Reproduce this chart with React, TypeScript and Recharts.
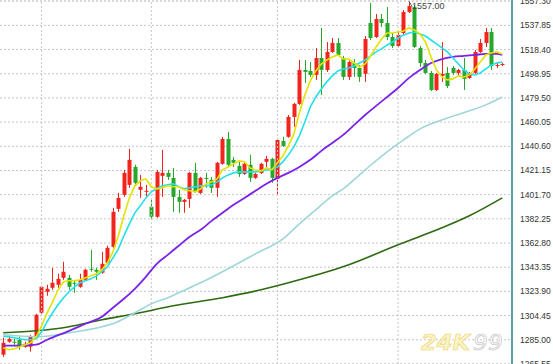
import React from 'react';
import { ComposedChart, Bar, Line, XAxis, YAxis, CartesianGrid, ReferenceLine, ReferenceDot } from 'recharts';

const opens = [
  1273.0, 1283.4, 1283.4, 1285.0, 1279.4, 1279.4, 1286.6, 1306.7, 1323.6, 1326.8,
  1329.2, 1334.8, 1334.8, 1330.8, 1327.6, 1333.2, 1342.1, 1341.3, 1338.9, 1346.9,
  1359.7, 1390.3, 1401.5, 1409.6, 1424.0, 1405.6, 1404.0, 1391.9, 1383.9, 1416.8,
  1419.2, 1415.2, 1399.9, 1395.9, 1398.3, 1419.2, 1403.1, 1415.2, 1413.6, 1407.2,
  1426.5, 1446.5, 1429.7, 1424.9, 1418.4, 1425.7, 1415.2, 1419.2, 1428.1, 1430.5,
  1414.4, 1444.9, 1448.2, 1464.2, 1474.7, 1502.0, 1501.2, 1498.0, 1511.6, 1502.0,
  1516.5, 1523.7, 1511.6, 1496.4, 1507.6, 1503.6, 1498.8, 1539.8, 1528.5, 1543.0,
  1539.8, 1528.5, 1521.3, 1531.7, 1548.6, 1552.6, 1519.7, 1507.6, 1499.6, 1485.9,
  1497.2, 1499.6, 1503.6, 1499.6, 1502.0, 1495.6, 1499.6, 1516.5, 1523.7, 1532.5,
  1505.2, 1506.0,
];
const closes = [
  1282.6, 1285.8, 1282.6, 1279.4, 1281.8, 1287.4, 1305.1, 1327.6, 1326.0, 1330.8,
  1334.0, 1339.7, 1327.6, 1330.0, 1333.2, 1341.3, 1341.3, 1339.7, 1346.1, 1358.9,
  1387.9, 1399.1, 1419.2, 1429.7, 1411.2, 1408.0, 1404.8, 1383.9, 1420.0, 1419.2,
  1416.0, 1399.9, 1395.9, 1397.5, 1419.2, 1404.0, 1415.2, 1414.4, 1407.2, 1427.3,
  1446.5, 1425.7, 1427.3, 1418.4, 1426.5, 1415.2, 1418.4, 1426.5, 1430.5, 1415.2,
  1445.7, 1440.9, 1464.2, 1474.7, 1502.0, 1500.4, 1498.0, 1511.6, 1502.0, 1516.5,
  1523.7, 1514.1, 1496.4, 1508.4, 1503.6, 1496.4, 1526.9, 1527.7, 1543.0, 1539.8,
  1528.5, 1521.3, 1530.1, 1548.6, 1553.4, 1520.5, 1507.6, 1499.6, 1485.9, 1498.8,
  1498.8, 1489.1, 1499.6, 1502.0, 1494.8, 1499.6, 1516.5, 1523.7, 1532.5, 1505.2,
  1506.0, 1506.8,
];
const highs = [
  1286.6, 1287.4, 1285.8, 1287.4, 1283.4, 1289.0, 1305.9, 1328.4, 1329.2, 1342.9,
  1338.1, 1347.7, 1337.2, 1333.2, 1338.1, 1342.1, 1357.3, 1342.9, 1355.7, 1360.6,
  1391.1, 1403.1, 1421.6, 1438.5, 1425.7, 1417.6, 1409.6, 1397.5, 1421.6, 1437.7,
  1421.6, 1423.2, 1405.6, 1398.3, 1420.0, 1427.3, 1416.0, 1419.2, 1416.0, 1428.1,
  1448.2, 1452.2, 1432.1, 1428.1, 1427.3, 1433.7, 1419.2, 1427.3, 1432.9, 1431.3,
  1446.3, 1448.2, 1465.8, 1475.5, 1510.0, 1510.0, 1508.4, 1519.7, 1535.8, 1524.5,
  1527.7, 1527.7, 1513.3, 1510.0, 1510.8, 1506.0, 1529.3, 1555.9, 1547.0, 1547.0,
  1552.6, 1531.7, 1532.5, 1550.2, 1557.0, 1554.2, 1521.3, 1510.0, 1501.2, 1499.6,
  1524.5, 1504.4, 1505.2, 1502.8, 1511.6, 1500.4, 1518.1, 1526.9, 1535.8, 1535.8,
  1508.4, 1507.6,
];
const lows = [
  1271.3, 1282.6, 1281.0, 1277.0, 1278.6, 1275.4, 1285.8, 1305.9, 1320.4, 1325.2,
  1326.8, 1333.2, 1325.2, 1322.8, 1326.8, 1332.4, 1339.7, 1333.2, 1338.1, 1346.1,
  1358.9, 1387.9, 1399.9, 1407.2, 1408.8, 1399.1, 1399.9, 1381.4, 1383.1, 1399.9,
  1413.6, 1387.9, 1387.1, 1387.1, 1391.1, 1403.1, 1402.3, 1407.2, 1403.1, 1399.9,
  1425.7, 1424.0, 1424.0, 1416.0, 1417.6, 1412.0, 1414.4, 1418.4, 1424.0, 1411.2,
  1401.5, 1440.1, 1447.4, 1456.2, 1473.9, 1491.6, 1496.4, 1494.0, 1481.9, 1500.4,
  1515.7, 1513.3, 1494.0, 1494.0, 1496.4, 1492.4, 1492.4, 1526.1, 1527.7, 1536.6,
  1526.1, 1519.7, 1520.5, 1530.1, 1547.8, 1519.7, 1504.4, 1498.8, 1485.1, 1485.1,
  1492.4, 1487.5, 1498.0, 1498.0, 1485.9, 1494.8, 1498.8, 1515.7, 1520.5, 1502.0,
  1503.6, 1505.2,
];

// moving averages
const ma5 = [
  1278.6, 1277.0, 1277.8, 1279.4, 1281.0, 1282.6, 1287.4, 1296.3, 1306.7, 1315.5,
  1325.2, 1331.6, 1332.4, 1332.4, 1333.2, 1334.8, 1336.4, 1338.1, 1341.3, 1346.9,
  1355.7, 1368.6, 1384.7, 1399.1, 1408.8, 1412.8, 1414.4, 1408.0, 1406.4, 1407.2,
  1408.8, 1408.0, 1408.0, 1405.6, 1404.8, 1404.0, 1406.4, 1410.4, 1412.0, 1414.4,
  1421.6, 1424.0, 1426.5, 1428.9, 1428.1, 1423.2, 1421.6, 1420.8, 1423.2, 1421.6,
  1427.3, 1432.9, 1440.9, 1450.6, 1467.4, 1481.9, 1493.2, 1501.2, 1506.8, 1510.0,
  1512.5, 1514.1, 1510.8, 1510.8, 1507.6, 1504.4, 1506.8, 1513.3, 1520.5, 1526.9,
  1531.7, 1531.7, 1532.5, 1533.3, 1535.8, 1534.2, 1530.9, 1524.5, 1512.5, 1502.0,
  1496.4, 1494.0, 1494.8, 1497.2, 1496.4, 1498.0, 1502.8, 1508.4, 1514.1, 1515.7,
  1516.5, 1514.9,
];
const ma10 = [
  1287.8, 1287.4, 1286.6, 1285.8, 1285.0, 1285.0, 1285.8, 1291.4, 1299.5, 1306.7,
  1313.1, 1318.8, 1323.6, 1327.6, 1330.8, 1332.4, 1334.0, 1336.4, 1339.7, 1343.7,
  1350.9, 1358.1, 1368.6, 1378.2, 1387.1, 1392.7, 1399.1, 1404.0, 1406.4, 1408.8,
  1409.6, 1410.4, 1408.0, 1406.4, 1407.2, 1408.0, 1408.8, 1408.8, 1409.6, 1412.0,
  1415.2, 1417.6, 1419.2, 1420.0, 1420.0, 1420.0, 1420.0, 1420.8, 1421.6, 1422.4,
  1424.0, 1428.1, 1433.7, 1440.1, 1449.0, 1460.2, 1472.3, 1480.3, 1486.7, 1492.4,
  1497.2, 1501.2, 1502.8, 1503.6, 1505.2, 1507.6, 1510.0, 1513.3, 1516.5, 1518.9,
  1522.1, 1524.5, 1527.7, 1530.1, 1531.7, 1532.5, 1530.9, 1529.3, 1526.1, 1522.9,
  1519.7, 1516.5, 1511.6, 1506.8, 1502.0, 1498.8, 1498.0, 1499.6, 1502.8, 1506.0,
  1507.6, 1508.4,
];
// sparse readings [candle index, value]
const ma20Pts: [number, number][] = [
  [0, 1280.2], [3, 1280.2], [6, 1281.0], [8, 1285.0], [12, 1292.2], [15, 1297.9], [18, 1303.5],
  [20, 1310.7], [22, 1318.0], [24, 1326.0], [26, 1335.6], [28, 1346.1], [30, 1353.3], [32, 1360.6],
  [34, 1367.8], [36, 1373.4], [38, 1380.6], [40, 1387.1], [42, 1393.5], [44, 1399.1], [46, 1404.8],
  [48, 1410.4], [50, 1415.2], [52, 1419.2], [54, 1424.0], [56, 1429.7], [58, 1436.9], [60, 1443.3],
  [62, 1449.8], [64, 1457.8], [66, 1465.8], [68, 1473.1], [70, 1480.3], [72, 1487.5], [74, 1495.6],
  [76, 1502.0], [78, 1507.6], [80, 1510.8], [82, 1512.5], [84, 1513.3], [86, 1514.1], [88, 1514.9],
  [90, 1514.9], [91, 1514.1],
];
const ma60Pts: [number, number][] = [
  [0, 1289.0], [6, 1287.4], [12, 1290.6], [18, 1295.5], [20, 1297.9], [23, 1304.3], [25, 1309.1],
  [27, 1313.9], [30, 1318.8], [32, 1322.8], [36, 1330.8], [41, 1342.1], [46, 1354.1], [51, 1366.2],
  [54, 1378.2], [57, 1389.5], [60, 1400.7], [62, 1406.4], [66, 1421.6], [70, 1436.1], [73, 1445.7],
  [76, 1454.6], [80, 1461.8], [85, 1469.1], [88, 1473.9], [91, 1480.3],
];
const ma120Pts: [number, number][] = [
  [0, 1290.6], [6, 1292.2], [12, 1295.5], [18, 1301.1], [24, 1305.9], [31, 1312.3], [40, 1318.8],
  [47, 1325.2], [54, 1333.2], [63, 1345.3], [72, 1361.4], [80, 1375.0], [85, 1384.7], [91, 1399.1],
];

const yTicks = [
  1265.55, 1285.0, 1304.45, 1323.9, 1343.35, 1362.8, 1382.25, 1401.7,
  1421.15, 1440.6, 1460.05, 1479.5, 1498.95, 1518.4, 1537.85, 1557.3,
];
const monthStarts = [7, 27, 50, 72];
const maxIndex = 74;
const maxValue = 1557.0;

const sparse = (pts: [number, number][]) => {
  const arr: (number | null)[] = opens.map(() => null);
  pts.forEach(([i, v]) => { arr[i] = v; });
  return arr;
};
const ma20 = sparse(ma20Pts);
const ma60 = sparse(ma60Pts);
const ma120 = sparse(ma120Pts);

const data = opens.map((o, i) => ({
  i,
  open: o,
  high: highs[i],
  low: lows[i],
  close: closes[i],
  range: [lows[i], highs[i]],
  ma5: ma5[i],
  ma10: ma10[i],
  ma20: ma20[i],
  ma60: ma60[i],
  ma120: ma120[i],
}));

const UP = '#f2251c';
const DOWN = '#26a82a';

const Candle = (props: any) => {
  const { x, y, width, height, payload } = props;
  if (!payload) return null;
  const { open, close, high, low } = payload;
  const top = Math.min(y, y + height);
  const h = Math.abs(height);
  const ratio = high > low ? h / (high - low) : 0;
  const yO = top + (high - open) * ratio;
  const yC = top + (high - close) * ratio;
  const up = close >= open;
  const color = up ? UP : DOWN;
  const cx = Math.round(x + width / 2);
  const bTop = Math.min(yO, yC);
  const bH = Math.max(1, Math.abs(yO - yC));
  return (
    <g>
      <line x1={cx + 0.5} x2={cx + 0.5} y1={top} y2={top + h} stroke={color} strokeWidth={1} />
      <rect x={cx - 1.5} y={bTop} width={4} height={bH} fill={color} />
    </g>
  );
};

const MaxMark = (p: any) => {
  const { cx, cy } = p;
  if (cx == null || cy == null) return null;
  return (
    <g>
      <line x1={cx} y1={cy} x2={cx + 3} y2={cy + 5} stroke="#555" strokeWidth={1} />
      <text x={cx + 3} y={cy + 7} fontSize={9} fill="#444" fontFamily="Liberation Sans">
        {maxValue.toFixed(2)}
      </text>
    </g>
  );
};

const lineCommon = {
  dot: false,
  activeDot: false,
  isAnimationActive: false,
} as const;

export default function App() {
  return (
    <div style={{ position: 'absolute', left: 0, top: 0, width: 553, height: 364, background: '#fff' }}>
      <ComposedChart
        width={553}
        height={364}
        data={data}
        margin={{ top: 0, right: 0, bottom: 0, left: 0 }}
        barCategoryGap="10%"
      >
        <CartesianGrid vertical={false} stroke="#c6c6c6" strokeDasharray="2 2" />
        <XAxis dataKey="i" hide padding={{ left: 0.5, right: 7 }} />
        <YAxis
          orientation="right"
          width={41}
          type="number"
          domain={[1265.5, 1558.26]}
          ticks={yTicks}
          interval={0}
          allowDataOverflow
          tickLine={false}
          axisLine={{ stroke: '#5a9fa8', strokeWidth: 2 }}
          tick={{ fontSize: 8.5, fill: '#333', fontFamily: 'Liberation Sans' }}
          tickFormatter={(v: number) => v.toFixed(2)}
        />
        {monthStarts.map((m) => (
          <ReferenceLine key={m} x={m} stroke="#c6c6c6" strokeDasharray="2 2" />
        ))}
        <Bar dataKey="range" shape={<Candle />} activeBar={false} isAnimationActive={false} />
        <Line dataKey="ma120" type="monotone" stroke="#2d6a12" strokeWidth={1.6} connectNulls {...lineCommon} />
        <Line dataKey="ma60" type="monotone" stroke="#9fd6d9" strokeWidth={1.6} connectNulls {...lineCommon} />
        <Line dataKey="ma20" type="monotone" stroke="#7a22e8" strokeWidth={1.8} connectNulls {...lineCommon} />
        <Line dataKey="ma10" type="linear" stroke="#22e0ea" strokeWidth={1.6} {...lineCommon} />
        <Line dataKey="ma5" type="linear" stroke="#e3e300" strokeWidth={1.6} {...lineCommon} />
        <ReferenceDot x={maxIndex} y={maxValue} r={0} shape={<MaxMark />} />
      </ComposedChart>
      <svg
        width={553}
        height={364}
        style={{ position: 'absolute', left: 0, top: 0, pointerEvents: 'none' }}
      >
        <text
          x={421}
          y={350}
          fontSize={22}
          fontStyle="italic"
          fontWeight="bold"
          fontFamily="DejaVu Sans"
          textLength={49}
          lengthAdjust="spacingAndGlyphs"
          fill="#faf3c6"
          stroke="#ead26a"
          strokeWidth={0.6}
        >
          24K
        </text>
        <text
          x={473}
          y={350}
          fontSize={22}
          fontStyle="italic"
          fontFamily="DejaVu Sans"
          textLength={30}
          lengthAdjust="spacingAndGlyphs"
          fill="#fafafa"
          stroke="#c4c4c4"
          strokeWidth={0.6}
        >
          99
        </text>
      </svg>
    </div>
  );
}
